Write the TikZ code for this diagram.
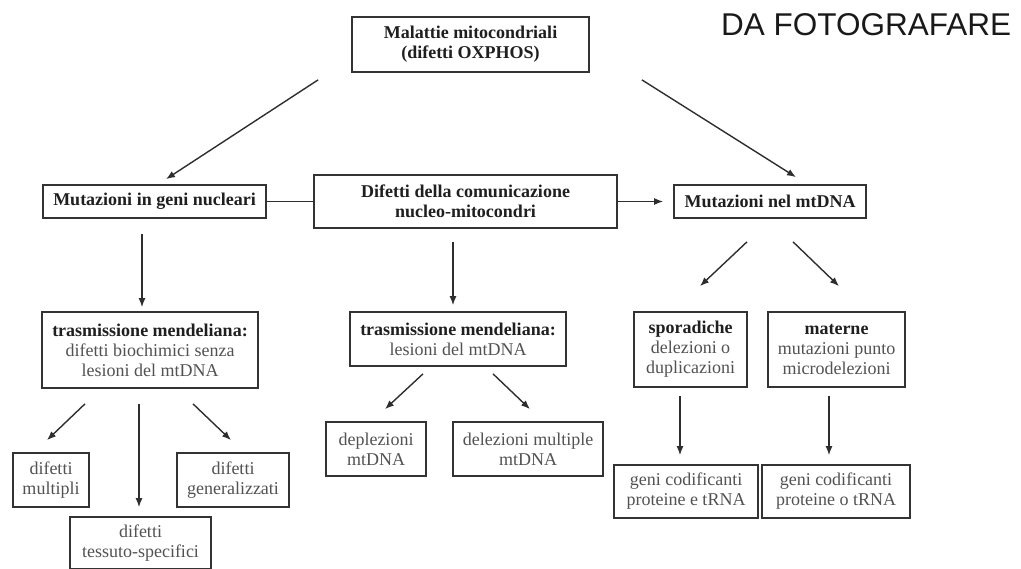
\documentclass[tikz,border=0pt]{standalone}
\usepackage{fontspec}
\setmainfont{Liberation Serif}
\newfontfamily\stampfont{Liberation Sans}
\usepackage{xcolor}
\usetikzlibrary{positioning, arrows.meta}

\newcommand{\bhead}[1]{\textcolor{black!88}{\textbf{#1}}}

\begin{document}
\begin{tikzpicture}[x=1pt, y=1pt]

\tikzset{
    box/.style={draw=black!80, line width=1.7pt, fill=white, align=center,
        inner sep=2pt, text=black!68, font=\fontsize{18}{20}\selectfont},
    arr/.style={line width=1.4pt, black!82, -{Latex[length=9pt, width=7pt]}},
    link/.style={line width=1.4pt, black!82}
}

\useasboundingbox (0,0) rectangle (1021,-569);

%====================================================
% TOP
%====================================================
\node[box, minimum width=237pt, minimum height=55pt] (malattie) at (470.5,-44.5)
    {\bhead{Malattie mitocondriali}\\\bhead{(difetti OXPHOS)}};

\node[anchor=base west, inner sep=0pt, text=black!90,
    font=\stampfont\fontsize{31.5}{34}\selectfont] (stamp) at (721,-36) {DA FOTOGRAFARE};

%====================================================
% SECOND ROW
%====================================================
\node[box, minimum width=223pt, minimum height=33pt] (nucleari) at (154.5,-201.5)
    {\bhead{Mutazioni in geni nucleari}};
\node[box, minimum width=303pt, minimum height=53pt] (comunic) at (465.5,-201.5)
    {\bhead{Difetti della comunicazione}\\\bhead{nucleo-mitocondri}};
\node[box, minimum width=192pt, minimum height=33pt] (mtdna) at (770,-201.5)
    {\bhead{Mutazioni nel mtDNA}};

\draw[arr] ([xshift=-33pt, yshift=-7pt]malattie.south west) -- ([xshift=11.5pt, yshift=5pt]nucleari.north);
\draw[arr] ([xshift=52pt, yshift=-7pt]malattie.south east) -- ([xshift=26pt, yshift=7pt]mtdna.north);
\draw[link] (nucleari.east) -- (comunic.west);
\draw[arr] (comunic.east) -- ([xshift=-10pt]mtdna.west);

%====================================================
% THIRD ROW
%====================================================
\node[box, minimum width=216pt, minimum height=76pt] (mendel1) at (150,-350)
    {\bhead{trasmissione mendeliana:}\\difetti biochimici senza\\lesioni del mtDNA};
\node[box, minimum width=216pt, minimum height=54pt] (mendel2) at (458,-339)
    {\bhead{trasmissione mendeliana:}\\lesioni del mtDNA};
\node[box, minimum width=113pt, minimum height=75pt] (sporad) at (690.5,-349.5)
    {\bhead{sporadiche}\\delezioni o\\duplicazioni};
\node[box, minimum width=137pt, minimum height=75pt] (materne) at (836.5,-349.5)
    {\bhead{materne}\\mutazioni punto\\microdelezioni};

\draw[arr] ([xshift=-12.5pt, yshift=-15pt]nucleari.south) -- ([xshift=-8pt, yshift=4pt]mendel1.north);
\draw[arr] ([xshift=-12.5pt, yshift=-13pt]comunic.south) -- ([xshift=-5pt, yshift=6pt]mendel2.north);
\draw[arr] ([xshift=-23pt, yshift=-23pt]mtdna.south) -- ([xshift=9.5pt, yshift=25pt]sporad.north);
\draw[arr] ([xshift=23pt, yshift=-23pt]mtdna.south) -- ([xshift=2.5pt, yshift=25pt]materne.north);

%====================================================
% BOTTOM
%====================================================
\node[box, minimum width=76pt, minimum height=54pt] (multipli) at (51,-480)
    {difetti\\multipli};
\node[box, minimum width=141pt, minimum height=52pt] (tessuto) at (140.5,-543)
    {difetti\\tessuto-specifici};
\node[box, minimum width=112pt, minimum height=54pt] (general) at (233,-480)
    {difetti\\generalizzati};
\node[box, minimum width=100pt, minimum height=54pt] (deplez) at (376,-449)
    {deplezioni\\mtDNA};
\node[box, minimum width=150pt, minimum height=54pt] (delez) at (528,-449)
    {delezioni multiple\\mtDNA};
\node[box, minimum width=144pt, minimum height=53pt] (geni1) at (686,-491.5)
    {geni codificanti\\proteine e tRNA};
\node[box, minimum width=148pt, minimum height=53pt] (geni2) at (836,-491.5)
    {geni codificanti\\proteine o tRNA};

\draw[arr] ([xshift=-65pt, yshift=-15pt]mendel1.south) -- ([xshift=-4pt, yshift=12pt]multipli.north);
\draw[arr] ([xshift=-11pt, yshift=-15pt]mendel1.south) -- ([xshift=-1.5pt, yshift=9pt]tessuto.north);
\draw[arr] ([xshift=43pt, yshift=-15pt]mendel1.south) -- ([xshift=-2pt, yshift=12pt]general.north);
\draw[arr] ([xshift=-35pt, yshift=-7pt]mendel2.south) -- ([xshift=9pt, yshift=12pt]deplez.north);
\draw[arr] ([xshift=35pt, yshift=-7pt]mendel2.south) -- ([xshift=2pt, yshift=12pt]delez.north);
\draw[arr] ([xshift=-10.5pt, yshift=-8pt]sporad.south) -- ([xshift=-6pt, yshift=9pt]geni1.north);
\draw[arr] ([xshift=-7.5pt, yshift=-8pt]materne.south) -- ([xshift=-7pt, yshift=9pt]geni2.north);

\end{tikzpicture}
\end{document}
